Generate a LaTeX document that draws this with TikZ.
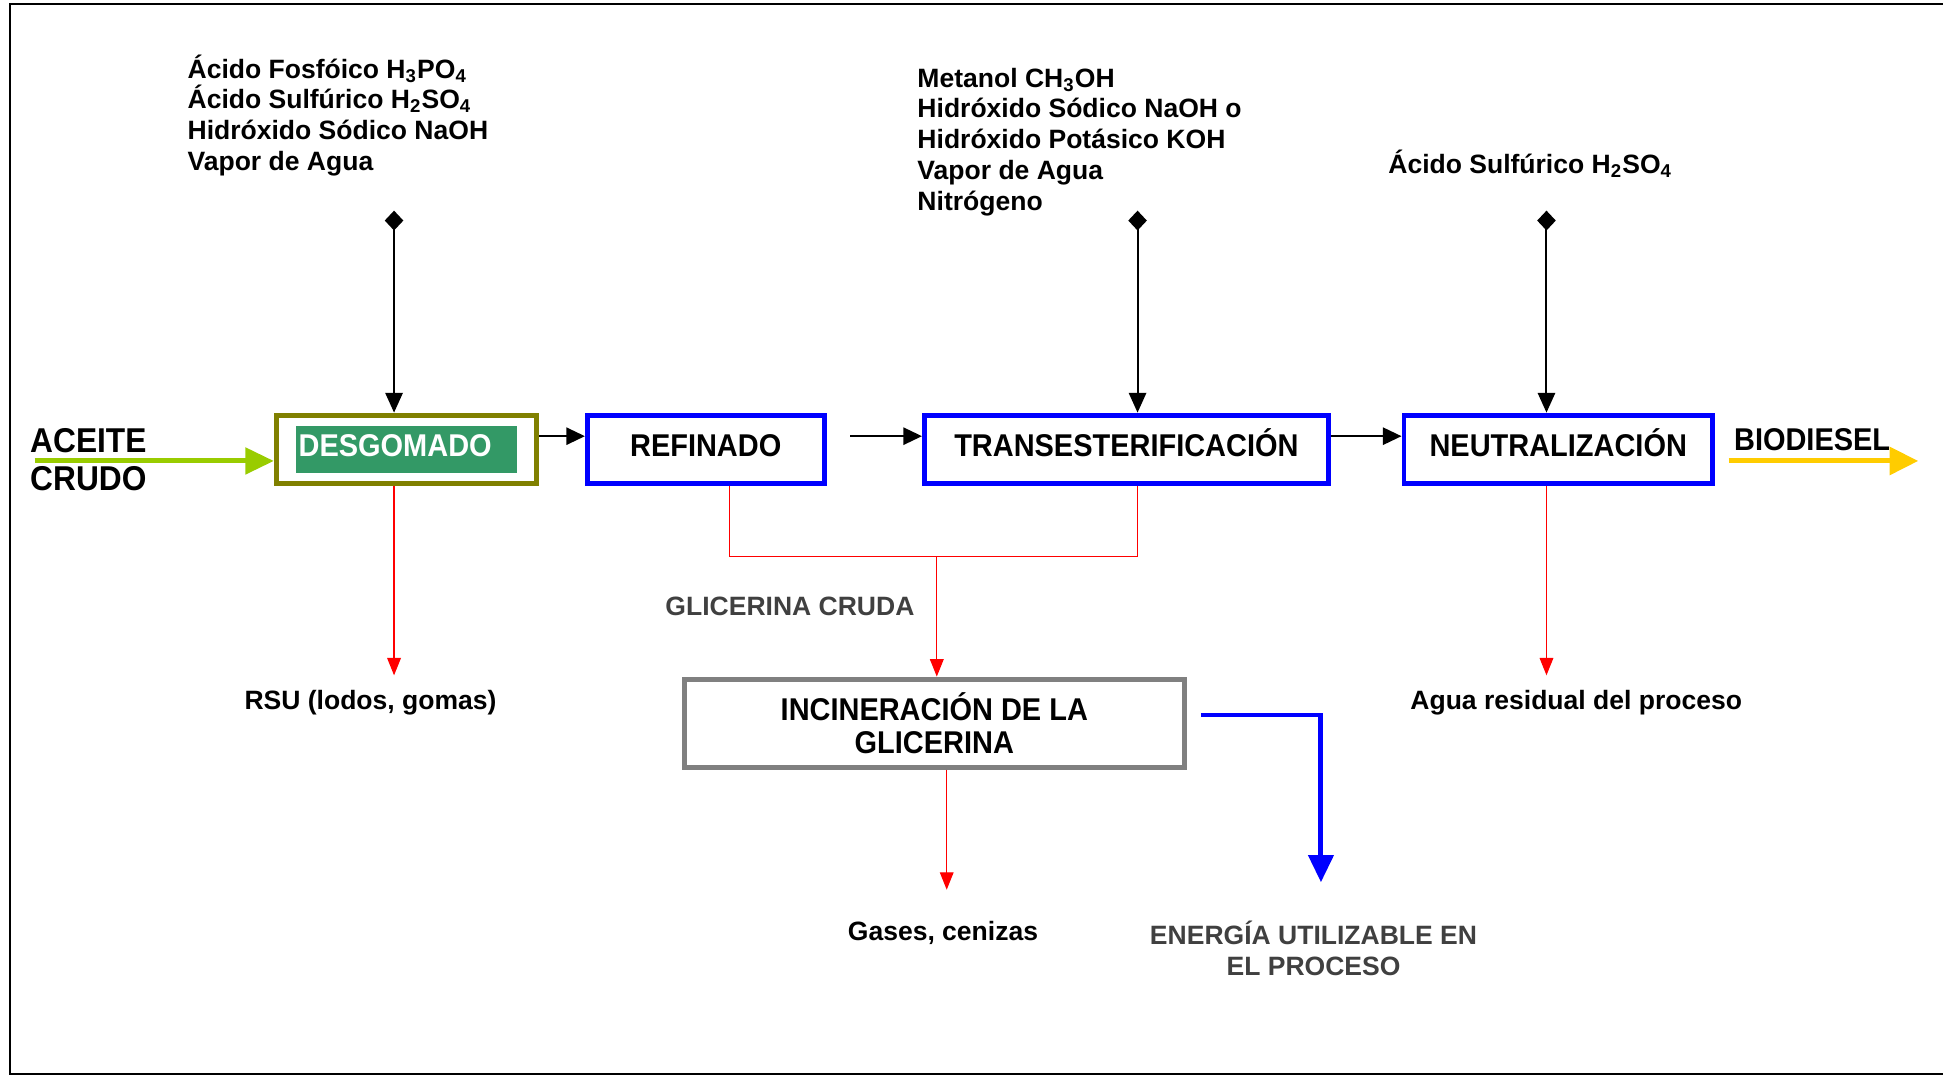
\documentclass[tikz,border=0pt]{standalone}
\usepackage{fontspec}
\setmainfont{Liberation Sans}
\newfontfamily\boxfont[FakeStretch=0.92]{Liberation Sans}
\usetikzlibrary{arrows.meta,positioning}
\definecolor{procblue}{HTML}{0000FF}
\definecolor{oliveline}{HTML}{808000}
\definecolor{desggreen}{HTML}{339966}
\definecolor{oilgreen}{HTML}{99CC00}
\definecolor{bioyellow}{HTML}{FFCC00}
\definecolor{incgray}{HTML}{808080}
\definecolor{lblgray}{HTML}{404040}
\def\sub#1{\textsubscript{#1}}

\tikzset{
  proc/.style={draw=procblue, line width=2pt, minimum height=27.5pt, inner sep=0pt, text height=9.5pt, text depth=3.5pt, font=\boxfont\bfseries\fontsize{12.7}{14}\selectfont},
  lbl/.style={inner sep=0pt, font=\bfseries\fontsize{10.7}{12.4}\selectfont},
  biglbl/.style={inner sep=0pt, font=\boxfont\bfseries\fontsize{12.7}{15}\selectfont},
  flow/.style={line width=0.7pt, -{Triangle[length=7.5pt,width=7pt]}},
  feed/.style={line width=0.8pt, {Diamond[length=8pt,width=7.5pt]}-{Triangle[length=8pt,width=7pt]}},
  waste/.style={red, line width=0.5pt, -{Triangle[length=7pt,width=5.5pt]}},
  redline/.style={red, line width=0.5pt},
  energy/.style={procblue, line width=2pt, -{Triangle[length=11pt,width=10pt]}},
  oil/.style={oilgreen, line width=2pt, -{Triangle[length=11.5pt,width=10.5pt]}},
  bio/.style={bioyellow, line width=2pt, -{Triangle[length=11.5pt,width=11pt]}}
}

\begin{document}
\begin{tikzpicture}[x=0.5pt,y=-0.5pt]
\useasboundingbox (0,0) rectangle (1568,871);
\draw[line width=0.9pt] (1568,3.5) -- (8,3.5) -- (8,867) -- (1568,867);

\node[proc, draw=oliveline, minimum width=105pt]	(desg)		at (328,362.5)				{};
\node[fill=desggreen, text=white, minimum width=89pt, minimum height=19pt, text width=87pt, inner xsep=1pt, inner ysep=0pt, align=left, font=\boxfont\bfseries\fontsize{12.7}{14}\selectfont, text height=9.5pt, text depth=3.5pt]
													(desglbl)	at (desg.center)			{DESGOMADO};
\node[proc, minimum width=95.5pt]					(ref)		[right=18.5pt of desg]		{REFINADO};
\node[proc, minimum width=163pt]					(trans)		[right=38.5pt of ref]		{TRANSESTERIFICACIÓN};
\node[proc, minimum width=124.5pt]					(neut)		[right=28.5pt of trans]		{NEUTRALIZACIÓN};
\node[proc, draw=incgray, minimum width=202pt, minimum height=35.5pt, align=center, text height=, text depth=, font=\boxfont\bfseries\fontsize{12.7}{13.5}\selectfont]
													(incin)		at (754,583.5)				{INCINERACIÓN DE LA\\GLICERINA};

\node[lbl, anchor=west, align=left]					(feedAtxt)	at (151,93)					{Ácido Fosfóico H\sub{3}PO\sub{4}\\Ácido Sulfúrico H\sub{2}SO\sub{4}\\Hidróxido Sódico NaOH\\Vapor de Agua};
\node[lbl, anchor=west, align=left]					(feedBtxt)	at (740,114.5)				{Metanol CH\sub{3}OH\\Hidróxido Sódico NaOH o\\Hidróxido Potásico KOH\\Vapor de Agua\\Nitrógeno};
\node[lbl, anchor=west]								(feedCtxt)	at (1120,132)				{Ácido Sulfúrico H\sub{2}SO\sub{4}};
\node[biglbl, anchor=west, align=left, font=\boxfont\bfseries\fontsize{13.9}{15}\selectfont]
													(oiltxt)	at (24,371)					{ACEITE\\CRUDO};
\node[biglbl, anchor=west]							(biotxt)	at (1399,355)				{BIODIESEL};
\node[lbl]											(rsu)		at (299,567)				{RSU (lodos, gomas)};
\node[lbl, text=lblgray]							(glytxt)	at (637.5,489)				{GLICERINA CRUDA};
\node[lbl]											(agua)		at (1272,567)				{Agua residual del proceso};
\node[lbl]											(gases)		at (761,753)				{Gases, cenizas};
\node[lbl, text=lblgray, align=center]				(energytxt)	at (1060,765.5)				{ENERGÍA UTILIZABLE EN\\EL PROCESO};

\coordinate (feedA)		at (318,170);
\coordinate (feedB)		at (918,170);
\coordinate (feedC)		at (1248,170);
\coordinate (oilin)		at (28,372);
\coordinate (refout)	at (686,352);
\coordinate (bioout)	at (1395,372);
\coordinate (bioend)	at (1548,372);
\coordinate (rsuin)		at (318,545);
\coordinate (glyA)		at (589,449);
\coordinate (glyB)		at (918,449);
\coordinate (glyjoin)	at (756,449);
\coordinate (gasin)		at (764,718);
\coordinate (enA)		at (969,577);
\coordinate (enB)		at (1066,712);
\coordinate (aguain)	at (1248,545);

\draw[feed]		(feedA) -- (feedA |- desg.north);
\draw[feed]		(feedB) -- (feedB |- trans.north);
\draw[feed]		(feedC) -- (feedC |- neut.north);
\draw[oil]		(oilin) -- (oilin -| desg.west);
\draw[flow]		([yshift=5.25pt]desg.east) -- ([yshift=5.25pt]ref.west);
\draw[flow]		(refout) -- (refout -| trans.west);
\draw[flow]		([yshift=5.25pt]trans.east) -- ([yshift=5.25pt]neut.west);
\draw[bio]		(bioout) -- (bioend);
\draw[waste]	(rsuin |- desg.south) -- (rsuin);
\draw[redline]	(glyA |- ref.south) -- (glyA) -- (glyB) -- (glyB |- trans.south);
\draw[waste]	(glyjoin) -- (glyjoin |- incin.north);
\draw[waste]	(gasin |- incin.south) -- (gasin);
\draw[energy]	(enA) -| (enB);
\draw[waste]	(aguain |- neut.south) -- (aguain);
\end{tikzpicture}
\end{document}
